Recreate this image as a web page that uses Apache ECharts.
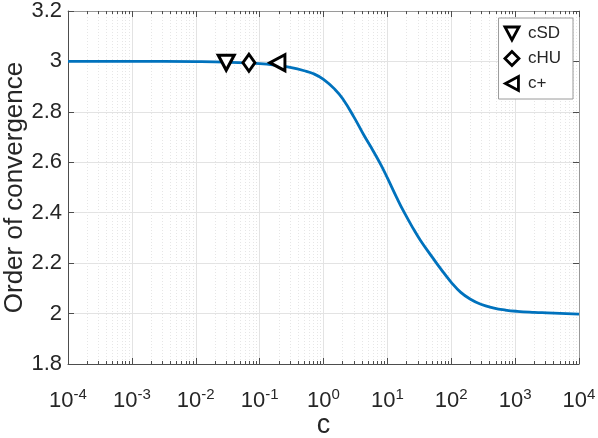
<!DOCTYPE html>
<html>
<head>
<meta charset="utf-8">
<script src="https://cdn.jsdelivr.net/npm/echarts@6/dist/echarts.min.js"></script>
<style>
  html, body { margin: 0; padding: 0; background: #fff; }
  #chart { width: 598px; height: 438px; }
</style>
</head>
<body>
<div id="chart"></div>
<script>
// curve: c values and order of convergence
const cValues = [0.0001, 0.001, 0.01, 0.03, 0.1, 0.2, 0.3, 0.5, 0.7, 1, 1.5, 2, 3, 4.3, 6, 8, 10, 14, 18, 25, 33, 50, 69, 100, 141, 200, 290, 450, 700, 1070, 2000, 3160, 10000]
const orderValues = [3.000, 3.000, 2.999, 2.997, 2.991, 2.983, 2.976, 2.963, 2.951, 2.929, 2.89, 2.852, 2.779, 2.707, 2.645, 2.588, 2.538, 2.46, 2.405, 2.34, 2.29, 2.225, 2.176, 2.124, 2.084, 2.057, 2.037, 2.023, 2.014, 2.009, 2.005, 2.003, 1.998]

// markers
const markerNames = ['cSD', 'cHU', 'c+']
const markerC = [0.03, 0.068, 0.19]
const markerOrder = [2.995, 2.995, 2.995]

// axes
const xMin = 1e-4
const xMax = 1e4
const yMin = 1.8
const yMax = 3.2
const yStep = 0.2

const font = 'Liberation Sans, Arial, Helvetica, sans-serif'
const textColor = '#262626'

// minor log ticks 2..9 per decade
let minorTicks = []
for (let n = -4; n < 4; n++) {
  for (let k = 2; k <= 9; k++) {
    minorTicks.push(k * Math.pow(10, n))
  }
}

const curveData = cValues.map((c, i) => [c, orderValues[i]])

// down triangle, diamond, left triangle
const markerSymbols = [
  'path://M0,0L14,0L7,13Z',
  'diamond',
  'path://M13,0L13,14L0,7Z'
]
const markerSize = [[16, 15], [12, 17], [15, 16]]

let markerSeries = markerNames.map((name, i) => ({
  type: 'scatter',
  name: name,
  xAxisIndex: 0,
  yAxisIndex: 0,
  symbol: markerSymbols[i],
  symbolSize: markerSize[i],
  itemStyle: {
    color: '#fff',
    borderColor: '#000',
    borderWidth: 3,
    opacity: 1
  },
  z: 5,
  data: [[markerC[i], markerOrder[i]]]
}))

function logAxis (position, major) {
  return {
    type: 'log',
    logBase: 10,
    min: xMin,
    max: xMax,
    position: position,
    axisLine: {
      show: major,
      lineStyle: { color: position === 'bottom' ? '#4d4d4d' : '#9a9a9a', width: 1 }
    },
    axisTick: major
      ? { show: true, inside: true, length: 6, lineStyle: { color: '#4d4d4d' } }
      : { show: true, inside: true, length: 3, customValues: minorTicks, lineStyle: { color: '#4d4d4d' } },
    axisLabel: major && position === 'bottom'
      ? {
          show: true,
          margin: 23,
          formatter: function (v) {
            const e = Math.round(Math.log10(v))
            return '{b|10}{e|' + e + '}'
          },
          rich: {
            b: { fontSize: 22, fontFamily: font, color: textColor },
            e: { fontSize: 15, fontFamily: font, color: textColor, padding: [0, 0, 12, 0] }
          }
        }
      : { show: false },
    splitLine: major
      ? { show: position === 'bottom', lineStyle: { color: '#e3e3e3', width: 1 } }
      : { show: position === 'bottom', lineStyle: { color: '#e6e6e6', width: 1, type: [1, 2] } },
    name: major && position === 'bottom' ? 'c' : '',
    nameLocation: 'middle',
    nameGap: 48,
    nameMoveOverlap: false,
    nameTextStyle: { fontSize: 27, fontFamily: font, color: textColor }
  }
}

const option = {
  animation: false,
  backgroundColor: '#fff',
  grid: {
    left: 68,
    right: 19,
    top: 11,
    bottom: 74,
    containLabel: false,
    outerBoundsMode: 'none'
  },
  legend: {
    data: markerNames.map((name, i) => ({
      name: name,
      icon: markerSymbols[i],
      itemStyle: { color: '#fff', borderColor: '#000', borderWidth: 2.8 }
    })),
    orient: 'vertical',
    right: 25,
    top: 18,
    itemWidth: 14,
    itemHeight: 14,
    itemGap: 8,
    padding: [7, 12, 7, 5],
    backgroundColor: '#fff',
    borderColor: '#9a9a9a',
    borderWidth: 1,
    borderRadius: 0,
    textStyle: { fontSize: 17, fontFamily: font, color: textColor, padding: [0, 0, 0, 4] }
  },
  xAxis: [
    logAxis('bottom', true),
    logAxis('bottom', false),
    logAxis('top', true),
    logAxis('top', false)
  ],
  yAxis: [
    {
      type: 'value',
      min: yMin,
      max: yMax,
      interval: yStep,
      position: 'left',
      axisLine: { show: true, lineStyle: { color: '#4d4d4d' } },
      axisTick: { show: true, inside: true, length: 6, lineStyle: { color: '#4d4d4d' } },
      axisLabel: {
        fontSize: 22,
        fontFamily: font,
        color: textColor,
        margin: 6,
        formatter: v => String(Math.round(v * 10) / 10)
      },
      splitLine: { show: true, lineStyle: { color: '#e3e3e3', width: 1 } },
      name: 'Order of convergence',
      nameLocation: 'middle',
      nameGap: 40,
      nameMoveOverlap: false,
      nameTextStyle: { fontSize: 26, fontFamily: font, color: textColor }
    },
    {
      type: 'value',
      min: yMin,
      max: yMax,
      interval: yStep,
      position: 'right',
      axisLine: { show: true, lineStyle: { color: '#9a9a9a' } },
      axisTick: { show: true, inside: true, length: 6, lineStyle: { color: '#4d4d4d' } },
      axisLabel: { show: false },
      splitLine: { show: false }
    }
  ],
  series: [
    {
      type: 'line',
      name: 'order',
      xAxisIndex: 0,
      yAxisIndex: 0,
      showSymbol: false,
      smooth: 0.45,
      lineStyle: { color: '#0072BD', width: 2.8 },
      itemStyle: { color: '#0072BD' },
      z: 3,
      data: curveData
    }
  ].concat(markerSeries)
}

const chart = echarts.init(document.getElementById('chart'))
chart.setOption(option)
</script>
</body>
</html>
